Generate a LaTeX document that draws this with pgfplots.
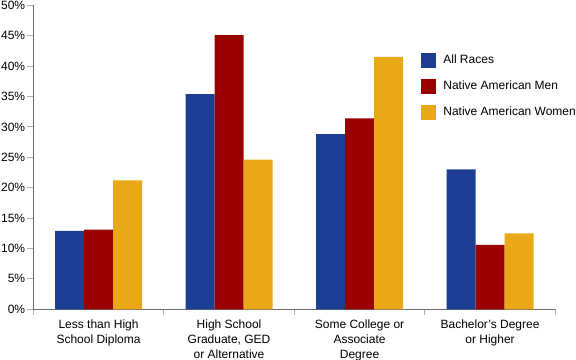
\documentclass[border=0pt]{standalone}
\usepackage{pgfplots}
\pgfplotsset{compat=1.18}
\usepackage{fontspec}
\setmainfont{Liberation Sans}
\definecolor{cblue}{RGB}{28,63,148}
\definecolor{cred}{RGB}{153,0,0}
\definecolor{cgold}{RGB}{233,168,24}
\definecolor{axgray}{RGB}{110,110,110}
\definecolor{tickgray}{RGB}{175,175,175}
\begin{document}
\fontsize{12}{15}\selectfont
\begin{tikzpicture}
\begin{axis}[
  scale only axis, width=522pt, height=304pt,
  xmin=-0.5, xmax=3.5, ymin=0, ymax=50,
  axis lines*=left,
  axis line style={axgray, line width=0.8pt, -},
  ybar=0pt, bar width=0.2222,
  xtick={-0.5,0.5,1.5,2.5,3.5},
  x tick label as interval,
  xticklabels={{Less than High\\School Diploma},{High School\\Graduate, GED\\or Alternative},{Some College or\\Associate\\Degree},{Bachelor's Degree\\or Higher}},
  xticklabel style={align=center, font=\fontsize{12}{15}\selectfont},
  ytick={0,5,...,50},
  yticklabel={\pgfmathprintnumber{\tick}\%},
  /pgf/number format/assume math mode=true,
  yticklabel style={font=\fontsize{12}{14}\selectfont, xshift=2pt},
  tick align=outside,
  major tick length=6pt,
  tick style={tickgray, line width=0.8pt},
  legend style={draw=none, fill=none, at={(0.743,0.845)}, anchor=north west,
    row sep=11pt, inner sep=0pt,
    nodes={inner sep=0pt, anchor=west, font=\fontsize{12}{14}\selectfont}},
  legend cell align=left,
  legend image code/.code={\fill[#1,draw=none] (0pt,-7.5pt) rectangle (15pt,7.5pt); \path (22pt,0pt);},
]
\addplot[fill=cblue, draw=none] coordinates {(0,12.9) (1,35.4) (2,28.8) (3,23.0)};
\addplot[fill=cred, draw=none] coordinates {(0,13.1) (1,45.1) (2,31.4) (3,10.6)};
\addplot[fill=cgold, draw=none] coordinates {(0,21.2) (1,24.6) (2,41.5) (3,12.5)};
\legend{All Races, Native American Men, Native American Women}
\coordinate (sw) at (rel axis cs:0,0);
\coordinate (ne) at (rel axis cs:1,1);
\end{axis}
\pgfresetboundingbox
\path ([shift={(-33.3pt,-50.5pt)}]sw) rectangle ([shift={(20.7pt,5.3pt)}]ne);
\end{tikzpicture}
\end{document}
